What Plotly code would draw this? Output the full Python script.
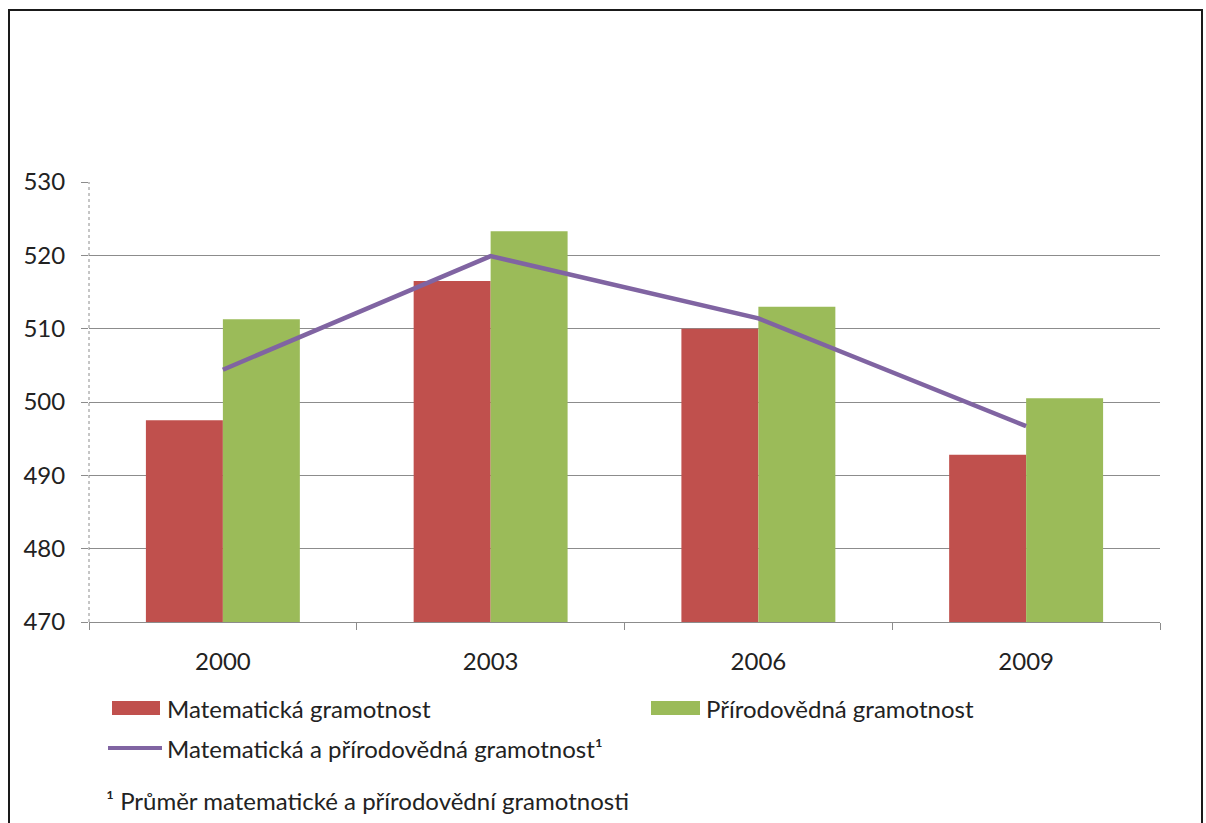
import plotly.graph_objects as go

# PISA results for Czech students
years = ["2000", "2003", "2006", "2009"]
math_scores = [497.5, 516.5, 510.0, 492.8]
science_scores = [511.3, 523.3, 513.0, 500.5]
combined_scores = [504.4, 519.9, 511.4, 496.7]

name_math = "Matematická gramotnost"
name_science = "Přírodovědná gramotnost"
name_combined = "Matematická a přírodovědná gramotnost"
footnote = "Průměr matematické a přírodovědní gramotnosti"

RED = "#C0504D"
GREEN = "#9BBB59"
PURPLE = "#8064A2"
GRID = "#8C8C8C"
TEXT = "#222222"
FONT = "Lato"

W, H = 1206, 823
L, R, T, B = 89, 46, 182, 201
PW, PH = W - L - R, H - T - B


def px(x):
    return (x - L) / PW


def py(y):
    return (H - B - y) / PH


fig = go.Figure()
fig.add_trace(go.Bar(x=years, y=math_scores, name=name_math,
                     marker=dict(color=RED, line=dict(width=0)), showlegend=False))
fig.add_trace(go.Bar(x=years, y=science_scores, name=name_science,
                     marker=dict(color=GREEN, line=dict(width=0)), showlegend=False))
fig.add_trace(go.Scatter(x=years, y=combined_scores, name=name_combined, mode="lines",
                         line=dict(color=PURPLE, width=4.5), showlegend=False))

shapes = [
    # dotted value axis
    dict(type="line", xref="paper", yref="paper", x0=0, x1=0, y0=0, y1=1,
         line=dict(color=GRID, width=1, dash="dot")),
    # outer frame
    dict(type="rect", xref="paper", yref="paper", x0=px(9), x1=px(1202), y0=py(840), y1=py(10),
         line=dict(color="#1a1a1a", width=2), layer="above"),
    # legend swatches
    dict(type="rect", xref="paper", yref="paper", x0=px(112), x1=px(160), y0=py(715), y1=py(701),
         fillcolor=RED, line=dict(width=0)),
    dict(type="rect", xref="paper", yref="paper", x0=px(651), x1=px(700), y0=py(715), y1=py(701),
         fillcolor=GREEN, line=dict(width=0)),
    dict(type="line", xref="paper", yref="paper", x0=px(108), x1=px(162), y0=py(748), y1=py(748),
         line=dict(color=PURPLE, width=4)),
]

legend_font = dict(family=FONT, size=24, color=TEXT)
annotations = [
    dict(xref="paper", yref="paper", x=px(165), y=py(708), text=name_math, showarrow=False,
         xanchor="left", yanchor="middle", font=legend_font),
    dict(xref="paper", yref="paper", x=px(704), y=py(708), text=name_science, showarrow=False,
         xanchor="left", yanchor="middle", font=legend_font),
    dict(xref="paper", yref="paper", x=px(165), y=py(748), text=name_combined + "¹",
         showarrow=False, xanchor="left", yanchor="middle", font=legend_font),
    dict(xref="paper", yref="paper", x=px(104), y=py(800), text="¹ " + footnote,
         showarrow=False, xanchor="left", yanchor="middle", font=legend_font),
]

fig.update_layout(
    width=W, height=H,
    margin=dict(l=L, r=R, t=T, b=B, pad=0),
    paper_bgcolor="white", plot_bgcolor="white",
    barmode="group", bargap=0.425, bargroupgap=0,
    font=dict(family=FONT, size=24, color=TEXT),
    shapes=shapes, annotations=annotations,
    xaxis=dict(type="category", showline=True, linecolor=GRID, linewidth=1,
               ticks="outside", tickson="boundaries", ticklen=7, tickcolor=GRID,
               showgrid=False, ticklabelstandoff=18, tickfont=dict(family=FONT, size=24, color=TEXT)),
    yaxis=dict(range=[470, 530], dtick=10, showgrid=True, gridcolor=GRID, gridwidth=1,
               showline=False, zeroline=False, ticks="outside", ticklen=7, tickcolor=GRID,
               ticklabelstandoff=11, tickfont=dict(family=FONT, size=24, color=TEXT)),
)

fig.write_html("out.html")
